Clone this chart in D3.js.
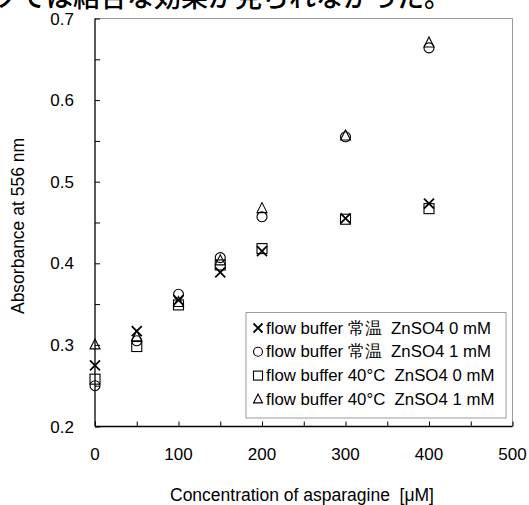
<!DOCTYPE html>
<html><head><meta charset="utf-8">
<script src="https://cdn.jsdelivr.net/npm/d3@7/dist/d3.min.js"></script>
<style>body{margin:0;background:#fff;} svg{display:block;}</style>
</head><body>
<script>
const xValues = [0, 50, 100, 150, 200, 300, 400];
const seriesNames = [
  "flow buffer 常温  ZnSO4 0 mM",
  "flow buffer 常温  ZnSO4 1 mM",
  "flow buffer 40°C  ZnSO4 0 mM",
  "flow buffer 40°C  ZnSO4 1 mM"
];
const seriesShapes = ["cross", "circle", "square", "triangle"];
const rt0 = [0.275, 0.317, 0.355, 0.389, 0.415, 0.455, 0.473];
const rt1 = [0.250, 0.305, 0.362, 0.407, 0.457, 0.555, 0.664];
const c40_0 = [0.258, 0.298, 0.349, 0.398, 0.418, 0.454, 0.467];
const c40_1 = [0.300, 0.310, 0.352, 0.403, 0.467, 0.556, 0.670];
const seriesValues = [rt0, rt1, c40_0, c40_1];
const xTicks = [0, 100, 200, 300, 400, 500];
const xMinorTicks = [0, 50, 100, 150, 200, 250, 300, 350, 400, 450, 500];
const yTicks = [0.2, 0.3, 0.4, 0.5, 0.6, 0.7];
const yMinorTicks = [0.2, 0.25, 0.3, 0.35, 0.4, 0.45, 0.5, 0.55, 0.6, 0.65, 0.7];
const xTitle = "Concentration of asparagine  [μM]";
const yTitle = "Absorbance at 556 nm";
const topText = "ソでは結合な効果が見られなかった。";

const W = 529, H = 505;
const svg = d3.select("body").append("svg").attr("width", W).attr("height", H);
const font = "Liberation Sans, Arial, sans-serif";

const x = d3.scaleLinear().domain([0, 500]).range([95, 512.5]);
const y = d3.scaleLinear().domain([0.2, 0.7]).range([426.5, 18.5]);

// top cut-off text
svg.append("text").attr("x", -8).attr("y", 7)
  .attr("font-family", "Noto Sans CJK JP").attr("font-size", 27).attr("font-weight", 500)
  .attr("fill", "#000").text(topText);

// frame top/right grey
svg.append("path")
  .attr("d", `M${x(0)},${y(0.7)}H${x(500)}V${y(0.2)}`)
  .attr("fill", "none").attr("stroke", "#9a9a9a").attr("stroke-width", 1);

// minor ticks via axes (inward)
const xAxis = d3.axisTop(x).tickValues(xMinorTicks).tickSize(5).tickFormat("");
svg.append("g").attr("transform", `translate(0,${y(0.2)})`).call(xAxis)
  .call(g => { g.select(".domain").remove(); g.selectAll("line").attr("stroke", "#000"); });
const yAxis = d3.axisRight(y).tickValues(yMinorTicks).tickSize(5).tickFormat("");
svg.append("g").attr("transform", `translate(${x(0)},0)`).call(yAxis)
  .call(g => { g.select(".domain").remove(); g.selectAll("line").attr("stroke", "#000"); });

// axes lines
svg.append("line").attr("x1", x(0)).attr("x2", x(500)).attr("y1", y(0.2)).attr("y2", y(0.2))
  .attr("stroke", "#000").attr("stroke-width", 1.3);
svg.append("line").attr("x1", x(0)).attr("x2", x(0)).attr("y1", y(0.2)).attr("y2", y(0.7))
  .attr("stroke", "#000").attr("stroke-width", 1.3);

// tick labels
svg.append("g").selectAll("text").data(xTicks).join("text")
  .attr("x", d => x(d)).attr("y", 460).attr("text-anchor", "middle")
  .attr("font-family", font).attr("font-size", 17).attr("fill", "#000")
  .text(d => d);
svg.append("g").selectAll("text").data(yTicks).join("text")
  .attr("x", 74).attr("y", d => y(d) + 6).attr("text-anchor", "end")
  .attr("font-family", font).attr("font-size", 17).attr("fill", "#000")
  .text(d => d.toFixed(1));

// titles
svg.append("text").attr("x", 302).attr("y", 501).attr("text-anchor", "middle")
  .attr("font-family", font).attr("font-size", 17.5).attr("fill", "#000")
  .style("white-space", "pre").text(xTitle);
svg.append("text").attr("transform", `translate(24,${226}) rotate(-90)`).attr("text-anchor", "middle")
  .attr("font-family", font).attr("font-size", 17.5).attr("fill", "#000").text(yTitle);

function marker(g, shape, cx, cy, s) {
  if (shape === "cross") {
    g.append("path").attr("d", `M${cx-s},${cy-s}L${cx+s},${cy+s}M${cx-s},${cy+s}L${cx+s},${cy-s}`)
      .attr("stroke", "#000").attr("stroke-width", 1.8).attr("fill", "none");
  } else if (shape === "circle") {
    g.append("circle").attr("cx", cx).attr("cy", cy).attr("r", s)
      .attr("stroke", "#000").attr("stroke-width", 1.1).attr("fill", "none");
  } else if (shape === "square") {
    g.append("rect").attr("x", cx - s).attr("y", cy - s).attr("width", 2*s).attr("height", 2*s)
      .attr("stroke", "#000").attr("stroke-width", 1.1).attr("fill", "none");
  } else {
    g.append("path").attr("d", `M${cx},${cy-s-1}L${cx+s},${cy+s-1}L${cx-s},${cy+s-1}Z`)
      .attr("stroke", "#000").attr("stroke-width", 1.1).attr("fill", "none");
  }
}

// points
const pts = svg.append("g");
seriesValues.forEach((vals, si) => {
  vals.forEach((v, i) => marker(pts, seriesShapes[si], x(xValues[i]), y(v), 5));
});

// legend
const lg = svg.append("g");
lg.append("rect").attr("x", 246).attr("y", 312.5).attr("width", 260).attr("height", 105.5)
  .attr("fill", "#fff").attr("stroke", "#9a9a9a").attr("stroke-width", 1);
seriesNames.forEach((name, i) => {
  const cy = 328 + i * 23.8;
  marker(lg, seriesShapes[i], 258, cy, 4.5);
  lg.append("text").attr("x", 266).attr("y", cy + 5.5)
    .attr("font-family", font).attr("font-size", 16.8).attr("fill", "#000")
    .style("white-space", "pre").text(name);
});
</script>
</body></html>
